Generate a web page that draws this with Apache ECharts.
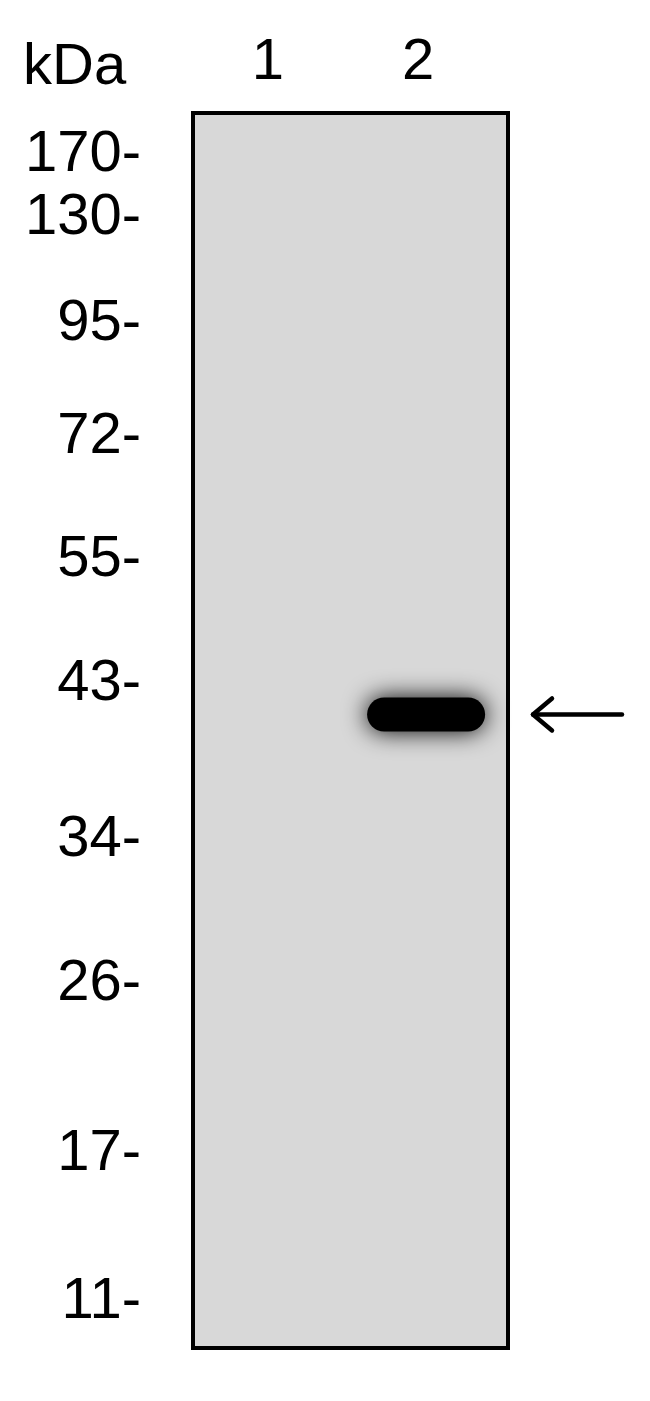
<!DOCTYPE html>
<html>
<head>
<meta charset="utf-8">
<script src="https://cdn.jsdelivr.net/npm/echarts@6/dist/echarts.min.js"></script>
<style>
  html, body { margin: 0; padding: 0; background: #fff; }
  #main { width: 650px; height: 1401px; }
</style>
</head>
<body>
<div id="main"></div>
<script>
const markerKda = [170, 130, 95, 72, 55, 43, 34, 26, 17, 11];
const markerRf = [0.032, 0.083, 0.169, 0.261, 0.360, 0.461, 0.587, 0.704, 0.841, 0.961];

// lane labels and where they sit across the membrane (0..2)
const laneNames = ['1', '2'];
const laneX = [0.476, 1.43];

// detected band: lane position, migration and relative intensity
const bandX = [1.48];
const bandRf = [0.487];
const bandIntensity = [1];

const fontFamily = '"Liberation Sans", Arial, sans-serif';

var myChart = echarts.init(document.getElementById('main'));

myChart.setOption({
  backgroundColor: '#ffffff',
  animation: false,
  title: {
    text: 'kDa',
    left: 18,
    top: 34,
    textStyle: { fontFamily: fontFamily, fontSize: 58, fontWeight: 'normal', color: '#000' }
  },
  grid: {
    left: 193,
    top: 113,
    right: 142,
    bottom: 53,
    show: true,
    backgroundColor: '#d8d8d8',
    borderColor: '#000',
    borderWidth: 4
  },
  xAxis: { type: 'value', min: 0, max: 2, show: false },
  yAxis: { type: 'value', min: 0, max: 1, inverse: true, show: false },
  series: [
    {
      name: 'markers',
      type: 'scatter',
      silent: true,
      clip: false,
      symbolSize: 0,
      itemStyle: { opacity: 1 },
      data: markerRf.map((rf, i) => [0, rf, markerKda[i]]),
      label: {
        show: true,
        position: 'left',
        distance: 52,
        offset: [0, 2],
        formatter: p => p.data[2] + '-',
        fontFamily: fontFamily,
        fontSize: 58,
        color: '#000'
      }
    },
    {
      name: 'lanes',
      type: 'scatter',
      silent: true,
      clip: false,
      symbolSize: 0,
      itemStyle: { opacity: 1 },
      data: laneX.map((x, i) => [x, 0, laneNames[i]]),
      label: {
        show: true,
        position: 'top',
        distance: 21,
        formatter: p => p.data[2],
        fontFamily: fontFamily,
        fontSize: 58,
        color: '#000'
      }
    },
    {
      name: 'band',
      type: 'custom',
      silent: true,
      clip: false,
      data: bandX.map((x, i) => [x, bandRf[i], bandIntensity[i]]),
      renderItem: function (params, api) {
        const c = api.coord([api.value(0), api.value(1)]);
        const w = 118, h = 34;
        return {
          type: 'rect',
          shape: { x: c[0] - w / 2, y: c[1] - h / 2, width: w, height: h, r: h / 2 },
          style: {
            fill: 'rgba(0,0,0,' + api.value(2) + ')',
            shadowBlur: 24,
            shadowColor: 'rgba(0,0,0,1)'
          }
        };
      }
    },
    {
      name: 'arrow',
      type: 'custom',
      silent: true,
      clip: false,
      data: bandRf.map(rf => [2, rf]),
      renderItem: function (params, api) {
        const c = api.coord([api.value(0), api.value(1)]);
        const tip = c[0] + 25, y = c[1];
        const stroke = { stroke: '#000', lineWidth: 4.5, fill: null, lineCap: 'round', lineJoin: 'round' };
        return {
          type: 'group',
          children: [
            { type: 'line', shape: { x1: tip, y1: y, x2: tip + 89, y2: y }, style: stroke },
            { type: 'polyline', shape: { points: [[tip + 19, y - 16], [tip, y], [tip + 19, y + 16]] }, style: stroke }
          ]
        };
      }
    }
  ]
});
</script>
</body>
</html>
